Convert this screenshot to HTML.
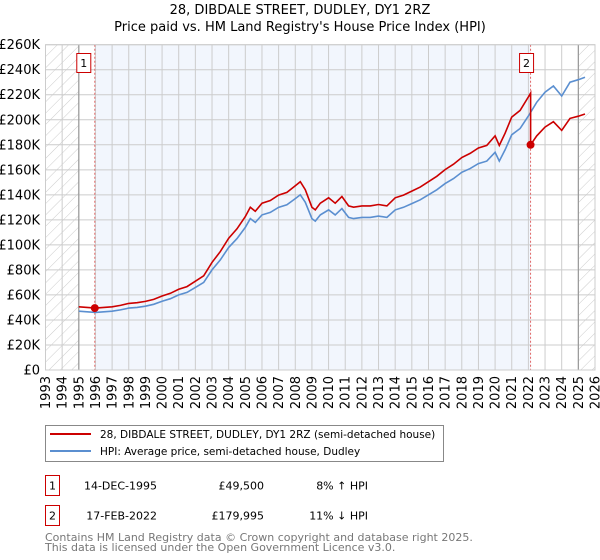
<!DOCTYPE html>
<html><head><meta charset="utf-8"><style>
body{margin:0;background:#fff;}
svg{display:block;font-family:"DejaVu Sans","Liberation Sans",sans-serif;}
</style></head><body>
<svg id="chart" width="600" height="560" viewBox="0 0 600 560" xmlns="http://www.w3.org/2000/svg">
<defs>
<pattern id="hatch" patternUnits="userSpaceOnUse" width="8" height="8" patternTransform="rotate(45)">
<line x1="0" y1="0" x2="0" y2="8" stroke="#ccc" stroke-width="1"/>
</pattern>
</defs>
<text x="300" y="14" text-anchor="middle" font-size="13">28, DIBDALE STREET, DUDLEY, DY1 2RZ</text>
<text x="300" y="31" text-anchor="middle" font-size="13">Price paid vs. HM Land Registry's House Price Index (HPI)</text>
<g id="plot"></g>
<g>
<rect x="45.5" y="425.5" width="398" height="36" fill="#fff" stroke="#888"/>
<line x1="50" y1="434" x2="91" y2="434" stroke="#cc0000" stroke-width="2"/>
<text x="100" y="438" font-size="10.5">28, DIBDALE STREET, DUDLEY, DY1 2RZ (semi-detached house)</text>
<line x1="50" y1="451" x2="91" y2="451" stroke="#5b8fd0" stroke-width="2"/>
<text x="100" y="455" font-size="10.5">HPI: Average price, semi-detached house, Dudley</text>
</g>
<g font-size="11">
<rect x="45.5" y="475.5" width="14" height="20" fill="#fff" stroke="#cc0000"/>
<text x="52.5" y="489.5" text-anchor="middle">1</text>
<text x="157" y="489.5" text-anchor="end">14-DEC-1995</text>
<text x="264" y="489.5" text-anchor="end">£49,500</text>
<text x="368" y="489.5" text-anchor="end">8% ↑ HPI</text>
<rect x="45.5" y="505.5" width="14" height="20" fill="#fff" stroke="#cc0000"/>
<text x="52.5" y="519.5" text-anchor="middle">2</text>
<text x="157" y="519.5" text-anchor="end">17-FEB-2022</text>
<text x="264" y="519.5" text-anchor="end">£179,995</text>
<text x="368" y="519.5" text-anchor="end">11% ↓ HPI</text>
</g>
<text x="45" y="541" font-size="11" fill="#777">Contains HM Land Registry data © Crown copyright and database right 2025.</text>
<text x="45" y="551" font-size="11" fill="#777">This data is licensed under the Open Government Licence v3.0.</text>
</svg>
<script>
const hpiDates = [1995.0,1995.5,1996.0,1996.5,1997.0,1997.5,1998.0,1998.5,1999.0,1999.5,2000.0,2000.5,2001.0,2001.5,2002.0,2002.5,2003.0,2003.5,2004.0,2004.5,2005.0,2005.3,2005.6,2006.0,2006.5,2007.0,2007.5,2008.0,2008.3,2008.6,2009.0,2009.2,2009.5,2010.0,2010.4,2010.8,2011.2,2011.5,2012.0,2012.5,2013.0,2013.5,2014.0,2014.5,2015.0,2015.5,2016.0,2016.5,2017.0,2017.5,2018.0,2018.5,2019.0,2019.5,2020.0,2020.25,2020.6,2021.0,2021.5,2022.0,2022.5,2023.0,2023.5,2024.0,2024.5,2025.0,2025.4];
const hpiValues = [47,46.5,46,46.5,47,48,49.5,50,51,52.5,55,57,60,62,66,70,80,88,98,105,114,121,118,124,126,130,132,137,140,134,121,119,124,128,124,129,122,121,122,122,123,122,128,130,133,136,140,144,149,153,158,161,165,167,174,167,176,188,193,203,214,222,227,219,230,232,234];
const saleDates = [1995.96, 2022.13];
const salePrices = [49.5, 179.995];
const yTicks = [0,20,40,60,80,100,120,140,160,180,200,220,240,260];
const xTicks = [1993,1994,1995,1996,1997,1998,1999,2000,2001,2002,2003,2004,2005,2006,2007,2008,2009,2010,2011,2012,2013,2014,2015,2016,2017,2018,2019,2020,2021,2022,2023,2024,2025,2026];

const L=45.5,R=595,T=44.7,B=370;
const X=y=>L+(y-1993)/(2026-1993)*(R-L);
const Y=v=>B-v/260*(B-T);
const NS='http://www.w3.org/2000/svg';
const g=document.getElementById('plot');
function mk(tag,attrs,parent){const e=document.createElementNS(NS,tag);for(const k in attrs)e.setAttribute(k,attrs[k]);(parent||g).appendChild(e);return e;}
function hpiAt(d){for(let i=0;i<hpiDates.length-1;i++){if(d>=hpiDates[i]&&d<=hpiDates[i+1]){const t=(d-hpiDates[i])/(hpiDates[i+1]-hpiDates[i]);return hpiValues[i]+t*(hpiValues[i+1]-hpiValues[i]);}}return hpiValues[hpiValues.length-1];}

const bg=mk('rect',{x:L,y:T,width:R-L,height:B-T,fill:'#fff'});


const band=mk('rect',{x:X(saleDates[0]),y:T,width:X(saleDates[1])-X(saleDates[0]),height:B-T,fill:'#f2f6fd'});


const h1=mk('rect',{x:L,y:T,width:X(1995)-L,height:B-T,fill:'url(#hatch)'});


const h2=mk('rect',{x:X(2025),y:T,width:R-X(2025),height:B-T,fill:'url(#hatch)'});



yTicks.forEach(v=>{
  const ln=mk('line',{x1:L,x2:R,y1:Y(v),y2:Y(v),stroke:'#ccc','stroke-width':1});
  
  
  const t=mk('text',{x:40,y:Y(v)+4.5,'text-anchor':'end','font-size':13});
  
  
  t.textContent=v===0?'£0':'£'+v+'K';
});
xTicks.forEach(yr=>{
  const ln=mk('line',{x1:X(yr),x2:X(yr),y1:T,y2:B,stroke:'#ccc','stroke-width':1});
  
  
  const t=mk('text',{x:0,y:0,'text-anchor':'end','font-size':13,transform:`translate(${X(yr)+4.5},376) rotate(-90)`});
  
  
  t.textContent=yr;
});
[1995,2025].forEach(yr=>{
  const ln=mk('line',{x1:X(yr),x2:X(yr),y1:T,y2:B,stroke:'#999','stroke-width':1.2});
  
  
});
saleDates.forEach((d,i)=>{
  const ln=mk('line',{x1:X(d),x2:X(d),y1:T,y2:B,stroke:'#e06666','stroke-width':1,'stroke-dasharray':'2,2'});
  
  
});

let pts=hpiDates.map((d,i)=>X(d).toFixed(1)+','+Y(hpiValues[i]).toFixed(1)).join(' ');
const hl=mk('polyline',{points:pts,fill:'none',stroke:'#5b8fd0','stroke-width':1.6});



const r0=salePrices[0]/hpiAt(saleDates[0]);
const r1=salePrices[1]/hpiAt(saleDates[1]);
let rp=[];
hpiDates.forEach((d,i)=>{
  if(d<saleDates[1]) rp.push([d,hpiValues[i]*r0]);
});
rp.push([saleDates[1],hpiAt(saleDates[1])*r0]);
rp.push([saleDates[1],salePrices[1]]);
hpiDates.forEach((d,i)=>{ if(d>saleDates[1]) rp.push([d,hpiValues[i]*r1]); });
const pl=mk('polyline',{points:rp.map(p=>X(p[0]).toFixed(1)+','+Y(p[1]).toFixed(1)).join(' '),fill:'none',stroke:'#cc0000','stroke-width':1.6});



saleDates.forEach((d,i)=>{
  const c=mk('circle',{cx:X(d),cy:Y(salePrices[i]),r:4,fill:'#cc0000'});
  
  
  const bx=X(d)-(i===0?11:4)-7;
  const r=mk('rect',{x:bx,y:53.5,width:14,height:19,fill:'#fff',stroke:'#cc0000'});
  
  
  const t=mk('text',{x:bx+7,y:67,'text-anchor':'middle','font-size':11});
  
  
  t.textContent=String(i+1);
});
const border=mk('rect',{x:L,y:T,width:R-L,height:B-T,fill:'none',stroke:'#ccc'});


</script>
</body></html>
